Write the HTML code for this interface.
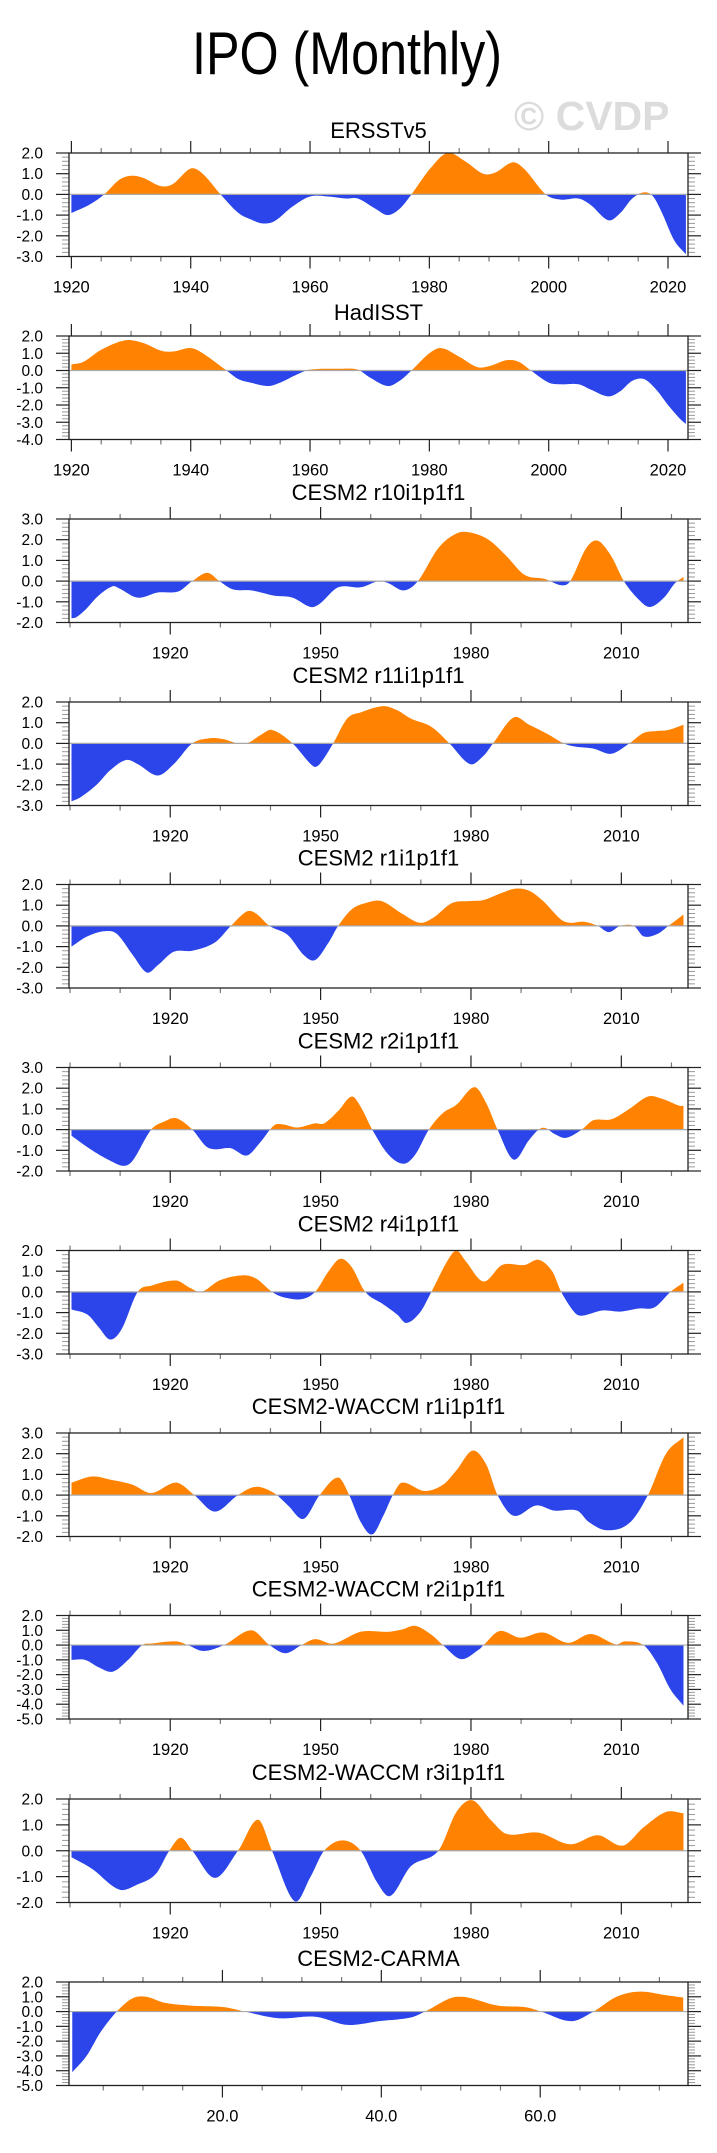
<!DOCTYPE html>
<html><head><meta charset="utf-8"><style>
html,body{margin:0;padding:0;background:#fff;}
svg{display:block;font-family:"Liberation Sans",sans-serif;}
</style></head><body>
<svg id="fig" width="717" height="2153" viewBox="0 0 717 2153" xmlns="http://www.w3.org/2000/svg">
<rect x="0" y="0" width="717" height="2153" fill="#fff"/>
<text x="347" y="74" font-size="60" text-anchor="middle" textLength="310" lengthAdjust="spacingAndGlyphs">IPO (Monthly)</text>
<text x="514" y="130" font-size="41" font-weight="bold" fill="#dcdcdc">© CVDP</text>
</svg>
<script>
// ---- data ----
const ersstYears = [1920,1923,1925.5,1928,1930,1932,1935,1937,1940,1942,1945,1948,1950,1952,1954,1957,1960,1963,1966,1968,1971,1973,1975,1977,1980,1983,1986,1989,1991,1994,1996,1999.5,2002,2005,2007,2010,2012,2014,2016,2017.5,2019,2021,2023];
const ersstVals = [-0.9,-0.5,0,0.7,0.9,0.8,0.4,0.5,1.25,1.0,0,-0.9,-1.2,-1.4,-1.3,-0.6,-0.1,-0.1,-0.2,-0.2,-0.7,-1.0,-0.7,0,1.2,2.0,1.6,1.0,1.05,1.55,1.2,0,-0.25,-0.2,-0.5,-1.25,-0.9,-0.2,0.1,-0.1,-0.9,-2.2,-2.9];
const hadYears = [1920,1922,1925,1929,1932,1935,1937,1940,1942,1946,1948,1950,1953,1955,1958,1960,1965,1968,1970,1973,1975,1977,1980,1982,1985,1988,1990,1993,1995,1997,2000,2002,2005,2007,2010,2012,2014,2016,2018,2020,2022,2023];
const hadVals = [0.35,0.5,1.2,1.75,1.6,1.15,1.1,1.3,1.0,0,-0.5,-0.7,-0.9,-0.7,-0.2,0.05,0.1,0.05,-0.4,-0.9,-0.6,0,1.0,1.3,0.8,0.2,0.25,0.6,0.5,0,-0.7,-0.8,-0.8,-1.1,-1.5,-1.2,-0.6,-0.5,-1.1,-2.0,-2.8,-3.1];
const r10Years = [1900.3,1901.2,1903,1905.7,1908.5,1909.8,1913.5,1917.5,1921.6,1924.4,1927.4,1929.8,1932.5,1936.2,1940.7,1944.4,1948,1949.8,1953.5,1958,1961.6,1963.5,1966.6,1969.4,1973.5,1977.1,1979.8,1983.5,1987.1,1990.7,1994.8,1998,1999.8,2003,2005.3,2008,2010.5,2013.5,2015.7,2018.5,2020.7,2022.4];
const r10Vals = [-1.8,-1.75,-1.4,-0.7,-0.25,-0.35,-0.8,-0.55,-0.5,0,0.4,0,-0.4,-0.45,-0.7,-0.8,-1.25,-1.1,-0.3,-0.3,0,-0.1,-0.45,0,1.6,2.3,2.35,2.0,1.2,0.3,0.1,-0.2,0,1.6,1.95,1.2,0,-0.9,-1.25,-0.8,-0.1,0.2];
const r11Years = [1900.3,1902.1,1905.3,1908,1911.2,1913.5,1917.5,1920.7,1924.4,1928,1930.7,1933.5,1935.7,1938,1940.3,1944.4,1948.5,1949.8,1952.5,1955.3,1958,1962.5,1965.3,1968,1972.1,1975.7,1979.8,1982.5,1984.4,1988.5,1991.6,1995.3,1998.5,2000.7,2004.4,2008,2011.6,2014.4,2017.1,2019.4,2022.4];
const r11Vals = [-2.8,-2.6,-2.0,-1.3,-0.8,-1.0,-1.55,-1.0,0,0.25,0.2,0,0.05,0.4,0.65,0,-1.1,-1.0,0,1.2,1.5,1.8,1.6,1.2,0.8,0,-1.0,-0.6,0,1.25,0.9,0.45,0,-0.15,-0.25,-0.5,0,0.5,0.6,0.65,0.9];
const r1Years = [1900.3,1903.5,1907.1,1909.4,1912.5,1915.3,1917.5,1920.7,1924.4,1928.9,1932.1,1935.3,1937.1,1939.8,1943.5,1946.6,1948.9,1951.6,1953.5,1956.2,1958.9,1962.1,1966.2,1969.8,1972.5,1976.2,1979.8,1982.5,1986.2,1988.9,1991.6,1994.4,1998,1999.8,2002.5,2005.3,2007.5,2009.8,2012.5,2014.4,2017.1,2019.4,2022.4];
const r1Vals = [-1.0,-0.5,-0.25,-0.4,-1.4,-2.25,-1.9,-1.25,-1.2,-0.8,0,0.7,0.6,0,-0.45,-1.4,-1.65,-0.8,0,0.8,1.1,1.2,0.6,0.15,0.4,1.1,1.2,1.25,1.6,1.8,1.7,1.2,0.3,0.15,0.2,0,-0.3,0,0,-0.5,-0.4,0,0.55];
const r2Years = [1900.3,1904.4,1908,1910.7,1912.5,1916.2,1918.9,1921.2,1924.4,1927.1,1928.9,1932.1,1935.3,1938,1940.7,1942.5,1945.3,1948.9,1950.7,1953.5,1956.2,1958,1960.3,1963.5,1966.6,1968.9,1971.6,1974.4,1977.1,1980.7,1983,1985.3,1988.5,1991.6,1993.5,1994.8,1996.6,1998.9,2002.1,2004.4,2008,2011.6,2015.3,2018,2021.6,2022.4];
const r2Vals = [-0.3,-1.0,-1.5,-1.75,-1.5,0,0.4,0.55,0,-0.8,-0.95,-0.9,-1.25,-0.6,0.2,0.25,0.1,0.3,0.3,0.9,1.6,1.1,0,-1.2,-1.65,-1.2,0,0.8,1.2,2.05,1.3,0,-1.45,-0.5,0,0.08,-0.2,-0.4,0,0.45,0.5,1.0,1.6,1.5,1.15,1.15];
const r4Years = [1900.3,1903.5,1905.7,1908,1910.3,1913.5,1916.2,1921.2,1923.9,1926.2,1929.8,1934.4,1937.1,1940.3,1942.5,1946.2,1948.9,1951.6,1953.9,1956.2,1958.9,1962.5,1965.3,1967.1,1969.8,1972.1,1975.3,1977.1,1978.9,1982.5,1986.2,1990.7,1993.5,1996.2,1998,2000.7,2002.1,2006.2,2009.8,2013.5,2016.6,2019.8,2022.4];
const r4Vals = [-0.85,-1.1,-1.7,-2.3,-1.8,0,0.3,0.55,0.2,0,0.55,0.8,0.65,0,-0.25,-0.35,0,1.0,1.6,1.2,0,-0.6,-1.1,-1.5,-1.0,0,1.5,2.0,1.5,0.5,1.3,1.3,1.55,1.0,0,-1.0,-1.15,-0.9,-0.95,-0.8,-0.75,0,0.45];
const w1Years = [1900.3,1904.4,1908,1912.5,1916.2,1921.2,1924.8,1928.9,1933.5,1937.1,1940.7,1943.5,1946.6,1949.8,1953.5,1955.7,1958,1960.3,1962.5,1964.4,1966.2,1970.7,1974.4,1977.1,1980.3,1983,1985.3,1988.5,1993,1996.6,2001.2,2003.5,2007.1,2011.6,2015.3,2018.9,2022.4];
const w1Vals = [0.6,0.9,0.75,0.5,0.1,0.6,0,-0.8,0,0.4,0.1,-0.5,-1.15,0,0.85,0,-1.3,-1.9,-1.0,0,0.6,0.2,0.5,1.2,2.15,1.5,0,-1.0,-0.5,-0.75,-0.75,-1.3,-1.7,-1.35,0,2.0,2.8];
const w2Years = [1900.3,1903,1905.7,1908.5,1911.6,1914.4,1916.2,1921.2,1923.5,1926.6,1930.7,1936.2,1939.8,1943,1946.2,1948.9,1952.5,1958,1963.5,1966.2,1968.9,1972.1,1974.4,1978,1981.6,1982.5,1985.7,1989.8,1994.4,1999.4,2003.9,2008.9,2010.7,2014.4,2017.1,2019.8,2022.4];
const w2Vals = [-1.0,-1.0,-1.5,-1.8,-1.0,0,0.1,0.25,0,-0.4,0,1.0,0,-0.55,0,0.4,0.1,0.9,0.9,1.05,1.3,0.7,0,-0.95,-0.3,0,0.95,0.5,0.85,0.15,0.75,0.05,0.25,0,-1.2,-3.0,-4.1];
const w3Years = [1900.3,1904.4,1909.8,1913.5,1917.1,1919.8,1922.1,1924.4,1928.9,1933.5,1937.5,1940.3,1944.8,1948,1950.7,1954.4,1958,1961.2,1963.9,1968,1973.5,1977.1,1980.3,1983.9,1987.1,1993.5,1999.8,2005.3,2010.3,2014.4,2018.9,2022.4];
const w3Vals = [-0.25,-0.7,-1.5,-1.3,-0.9,0,0.5,0,-1.05,0,1.2,0,-1.95,-1.0,0,0.4,0,-1.2,-1.75,-0.6,0,1.5,1.95,1.2,0.65,0.7,0.25,0.6,0.2,0.9,1.5,1.45];
const carmaX = [1.1,2.9,4.65,6.7,8.7,10.4,12.7,16.1,20.2,22.8,27.1,31.7,35.7,39.7,43.7,45.5,49.5,54.7,58.1,60.1,63.9,66.7,69.6,72.5,75.9,78];
const carmaVals = [-4.1,-3.0,-1.4,0,0.9,1.0,0.6,0.4,0.3,0,-0.45,-0.35,-0.9,-0.65,-0.4,0,1.0,0.4,0.3,0,-0.65,0,1.0,1.35,1.1,0.95];
const obsMajor = [1920,1940,1960,1980,2000,2020];
const modelMajor = [1920,1950,1980,2010];
const carmaMajor = [20,40,60];
const carmaMajorLabels = ["20.0","40.0","60.0"];

// ---- drawing ----
const NS = "http://www.w3.org/2000/svg";
const svg = document.getElementById('fig');
const L = 69, R = 688, H = 103.5;
function mk(tag, attrs, parent){
  const e = document.createElementNS(NS, tag);
  for (const k in attrs) e.setAttribute(k, attrs[k]);
  (parent||svg).appendChild(e);
  return e;
}
function hermite(xs, ys){
  const n = Math.min(xs.length, ys.length);
  const m = [];
  for (let i=0;i<n;i++){
    if (i===0) m.push((ys[1]-ys[0])/(xs[1]-xs[0]));
    else if (i===n-1) m.push((ys[n-1]-ys[n-2])/(xs[n-1]-xs[n-2]));
    else m.push((ys[i+1]-ys[i-1])/(xs[i+1]-xs[i-1]));
  }
  const out = [];
  for (let i=0;i<n-1;i++){
    const h = xs[i+1]-xs[i];
    for (let s=0;s<12;s++){
      const t = s/12, t2=t*t, t3=t2*t;
      const y = (2*t3-3*t2+1)*ys[i] + (t3-2*t2+t)*h*m[i] + (-2*t3+3*t2)*ys[i+1] + (t3-t2)*h*m[i+1];
      out.push([xs[i]+t*h, y]);
    }
  }
  out.push([xs[n-1], ys[n-1]]);
  return out;
}
let pid = 0;
function panel(cfg){
  pid++;
  const g = mk('g', {});
  
  
  const top = cfg.top, bot = top + H;
  const xs = v => L + (v - cfg.x0) / (cfg.x1 - cfg.x0) * (R - L);
  const ys = v => top + (cfg.ymax - v) / (cfg.ymax - cfg.ymin) * H;
  const y0 = ys(0);
  // title
  const t = mk('text', {x:(L+R)/2, y: top - cfg.tOff, 'font-size':22, 'text-anchor':'middle'}, g);
  
  
  t.textContent = cfg.title;
  // clip paths
  const defs = mk('defs', {}, g);
  const cp = mk('clipPath', {id:'cp'+pid}, defs);
  mk('rect', {x:L, y:top, width:R-L, height:y0-top}, cp);
  const cn = mk('clipPath', {id:'cn'+pid}, defs);
  mk('rect', {x:L, y:y0, width:R-L, height:bot-y0}, cn);
  const pts = hermite(cfg.xv, cfg.yv);
  let d = 'M' + xs(pts[0][0]).toFixed(2) + ',' + y0.toFixed(2);
  for (const p of pts){
    let v = Math.max(cfg.ymin, Math.min(cfg.ymax, p[1]));
    d += 'L' + xs(p[0]).toFixed(2) + ',' + ys(v).toFixed(2);
  }
  d += 'L' + xs(pts[pts.length-1][0]).toFixed(2) + ',' + y0.toFixed(2) + 'Z';
  const pos = mk('path', {d:d, fill:'#ff8300', 'clip-path':'url(#cp'+pid+')'}, g);
  
  
  const neg = mk('path', {d:d, fill:'#2b45ea', 'clip-path':'url(#cn'+pid+')'}, g);
  
  
  const zl = mk('line', {x1:L, x2:R, y1:y0, y2:y0, stroke:'#a8a8a8', 'stroke-width':1.2}, g);
  
  
  // y ticks
  for (let v = cfg.ymin; v <= cfg.ymax + 1e-6; v += 0.2){
    const vv = Math.round(v*10)/10;
    const yy = ys(vv);
    if (Math.abs(vv - Math.round(vv)) < 1e-6){
      mk('line', {x1:56, x2:L, y1:yy, y2:yy, stroke:'#222', 'stroke-width':1.2}, g);
      mk('line', {x1:R, x2:701, y1:yy, y2:yy, stroke:'#222', 'stroke-width':1.2}, g);
      const lb = mk('text', {x:43, y:yy+5.5, 'font-size':15.5, 'text-anchor':'end'}, g);
      
      
      lb.textContent = vv.toFixed(1);
    } else {
      mk('line', {x1:62, x2:L, y1:yy, y2:yy, stroke:'#999', 'stroke-width':1}, g);
      mk('line', {x1:R, x2:695, y1:yy, y2:yy, stroke:'#999', 'stroke-width':1}, g);
    }
  }
  // x ticks
  for (let v = cfg.mStart; v <= cfg.x1; v += cfg.mStep){
    const xx = xs(v);
    if (xx < L-0.5) continue;
    const isMaj = cfg.major.some(mj => Math.abs(mj - v) < 1e-6);
    const len = isMaj ? 12 : 5;
    mk('line', {x1:xx, x2:xx, y1:top-len, y2:top, stroke:isMaj?'#222':'#777', 'stroke-width':1.2}, g);
    mk('line', {x1:xx, x2:xx, y1:bot, y2:bot+len, stroke:isMaj?'#222':'#777', 'stroke-width':1.2}, g);
  }
  cfg.major.forEach((mj, i) => {
    const lb = mk('text', {x:xs(mj), y:bot+36, 'font-size':16.5, 'text-anchor':'middle'}, g);
    
    
    lb.textContent = cfg.labels ? cfg.labels[i] : String(mj);
  });
  const fr = mk('rect', {x:L, y:top, width:R-L, height:H, fill:'none', stroke:'#222', 'stroke-width':1.3}, g);
  
  
}
const obs = {x0:1919.6, x1:2023.35, major:obsMajor, mStart:1920, mStep:5};
const mod = {x0:1899.8, x1:2023.3, major:modelMajor, mStart:1900, mStep:10};
panel(Object.assign({name:'ersstv5', title:'ERSSTv5', top:153, ymax:2, ymin:-3, xv:ersstYears, yv:ersstVals, tOff:15}, obs));
panel(Object.assign({name:'hadisst', title:'HadISST', top:336, ymax:2, ymin:-4, xv:hadYears, yv:hadVals, tOff:16}, obs));
panel(Object.assign({name:'cesm2-r10', title:'CESM2 r10i1p1f1', top:519, ymax:3, ymin:-2, xv:r10Years, yv:r10Vals, tOff:19}, mod));
panel(Object.assign({name:'cesm2-r11', title:'CESM2 r11i1p1f1', top:702, ymax:2, ymin:-3, xv:r11Years, yv:r11Vals, tOff:19}, mod));
panel(Object.assign({name:'cesm2-r1', title:'CESM2 r1i1p1f1', top:884.5, ymax:2, ymin:-3, xv:r1Years, yv:r1Vals, tOff:19}, mod));
panel(Object.assign({name:'cesm2-r2', title:'CESM2 r2i1p1f1', top:1067.5, ymax:3, ymin:-2, xv:r2Years, yv:r2Vals, tOff:19}, mod));
panel(Object.assign({name:'cesm2-r4', title:'CESM2 r4i1p1f1', top:1250.5, ymax:2, ymin:-3, xv:r4Years, yv:r4Vals, tOff:19}, mod));
panel(Object.assign({name:'waccm-r1', title:'CESM2-WACCM r1i1p1f1', top:1433, ymax:3, ymin:-2, xv:w1Years, yv:w1Vals, tOff:19}, mod));
panel(Object.assign({name:'waccm-r2', title:'CESM2-WACCM r2i1p1f1', top:1615.5, ymax:2, ymin:-5, xv:w2Years, yv:w2Vals, tOff:19}, mod));
panel(Object.assign({name:'waccm-r3', title:'CESM2-WACCM r3i1p1f1', top:1799, ymax:2, ymin:-2, xv:w3Years, yv:w3Vals, tOff:19}, mod));
panel({name:'cesm2-carma', title:'CESM2-CARMA', top:1982, ymax:2, ymin:-5, xv:carmaX, yv:carmaVals, tOff:16,
  x0:0.69, x1:78.6, major:carmaMajor, labels:carmaMajorLabels, mStart:5, mStep:5});
</script>
</body></html>
